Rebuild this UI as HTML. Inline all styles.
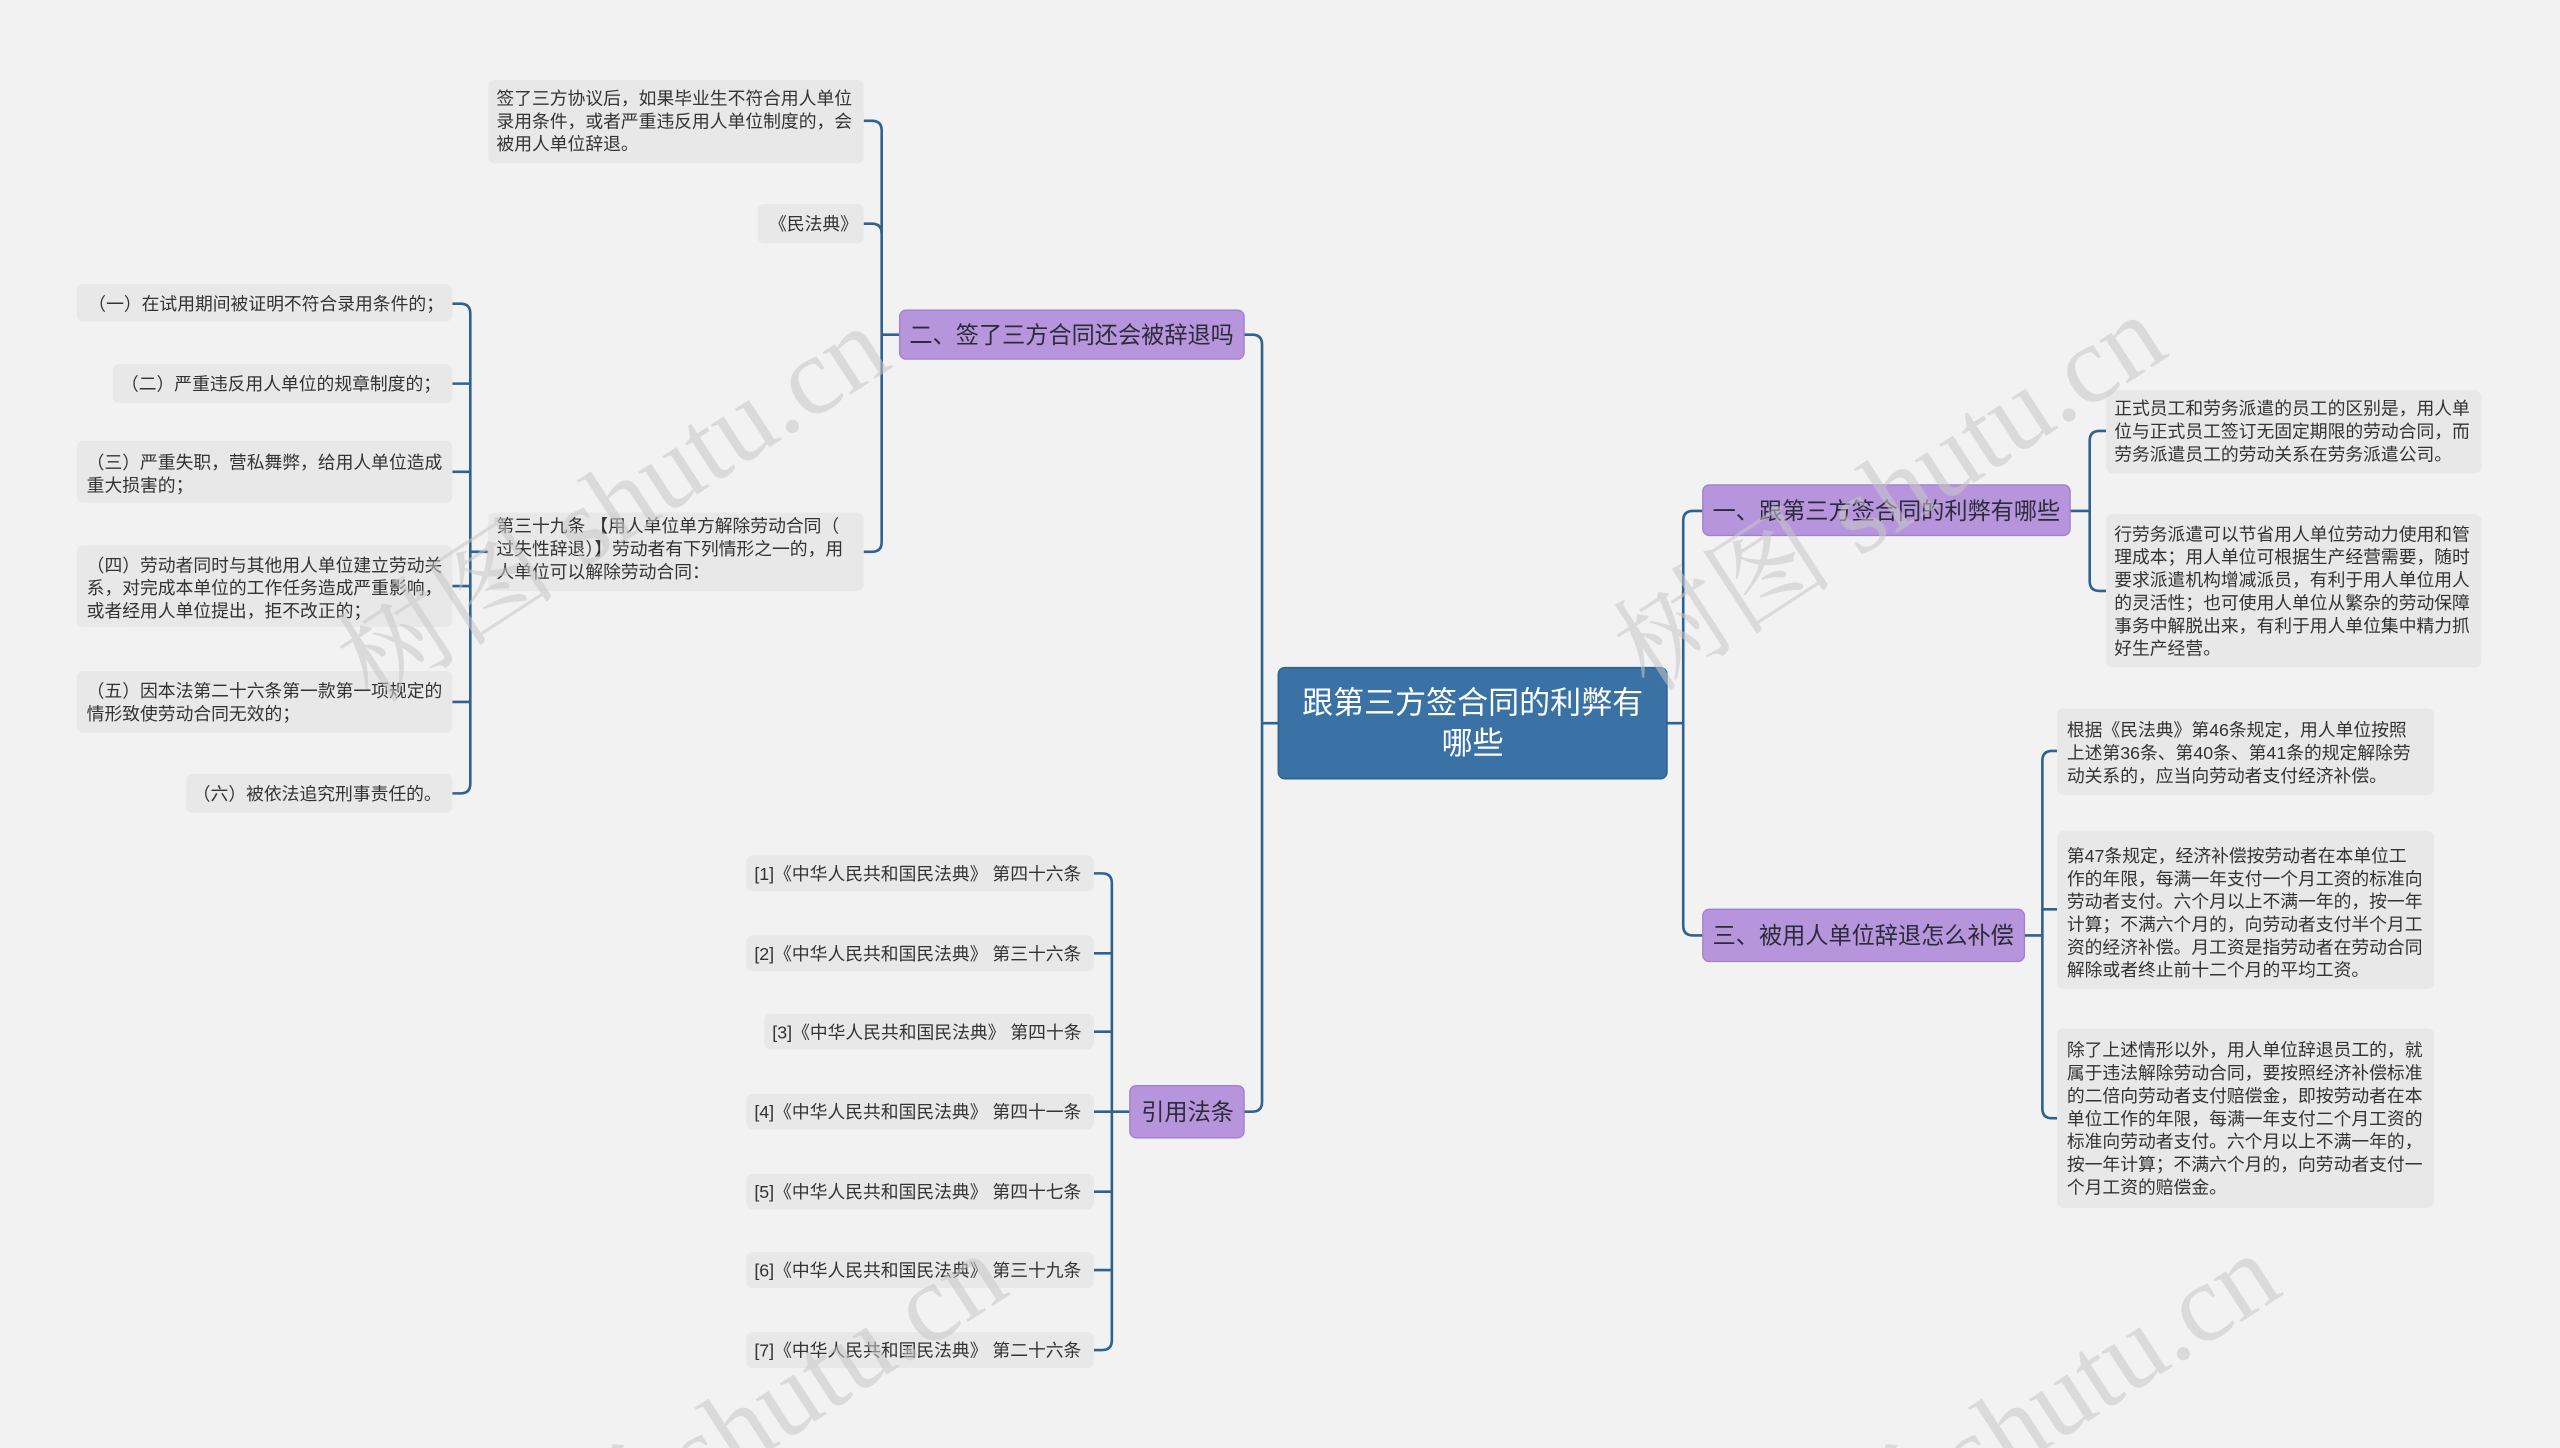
<!DOCTYPE html>
<html><head><meta charset="utf-8"><style>
html,body{margin:0;padding:0;background:#f2f2f2;width:2560px;height:1448px;overflow:hidden;}
svg{display:block;}
text{font-family:"Liberation Sans","Noto Sans CJK SC",sans-serif;}
.l{font-size:10.9px;fill:#333;}
.b{font-size:14.2px;fill:#2b2b3a;}
.c{fill:none;stroke:#2f628f;stroke-width:1.6;}
.leaf{fill:#e8e8e8;}
.br{fill:#b795dc;stroke:#a07fcf;stroke-width:0.8;}
.wm{font-size:68px;fill:#c8c8c8;opacity:0.55;font-family:"Liberation Serif","Noto Serif CJK SC",serif;}
</style></head><body>
<svg width="2560" height="1448" viewBox="0 0 1568 887" xmlns="http://www.w3.org/2000/svg">
<rect width="1568" height="887" fill="#f2f2f2"/>

<g class="c">
<path d="M529,74 H534 Q540,74 540,80 V332 Q540,338 534,338 H529"/><path d="M529,137 H534 Q540,137 540,143"/><path d="M540,205 H551"/>
<path d="M277,186 H282 Q288,186 288,192 V480 Q288,486 282,486 H277"/>
<path d="M277,235 H288 M277,289 H288 M277,359 H288 M277,430 H288 M288,338 H299"/>
<path d="M670,535 H675 Q681,535 681,541 V821 Q681,827 675,827 H670"/>
<path d="M670,584 H681 M670,632 H681 M670,681 H692 M670,730 H681 M670,778 H681"/>
<path d="M762,205 H767 Q773,205 773,211 V675 Q773,681 767,681 H762"/><path d="M773,443 H783"/>
<path d="M1043,313 H1037 Q1031,313 1031,319 V567 Q1031,573 1037,573 H1043"/><path d="M1021,443 H1031"/>
<path d="M1290,264 H1286 Q1280,264 1280,270 V356 Q1280,362 1286,362 H1290"/><path d="M1268,313 H1280"/>
<path d="M1260,460 H1257 Q1251,460 1251,466 V679 Q1251,685 1257,685 H1260"/><path d="M1240,573 H1251 M1251,557 H1260"/>
</g>

<rect x="783" y="409" width="238" height="68" rx="4" fill="#3b72a5" stroke="#2f628f"/>
<text x="902" y="437" text-anchor="middle" style="font-size:19px;fill:#fff">跟第三方签合同的利弊有</text>
<text x="902" y="462" text-anchor="middle" style="font-size:19px;fill:#fff">哪些</text>

<rect class="br" x="551" y="190" width="211" height="30" rx="4"/><text class="b" x="557" y="210">二、签了三方合同还会被辞退吗</text>
<rect class="br" x="1043" y="297" width="225" height="31" rx="4"/><text class="b" x="1049" y="318">一、跟第三方签合同的利弊有哪些</text>
<rect class="br" x="1043" y="557" width="197" height="32" rx="4"/><text class="b" x="1049" y="578">三、被用人单位辞退怎么补偿</text>
<rect class="br" x="692" y="665" width="70" height="32" rx="4"/><text class="b" x="699" y="686">引用法条</text>

<rect class="leaf" x="299" y="49" width="230" height="51" rx="4"/>
<text class="l" x="304" y="64">签了三方协议后，如果毕业生不符合用人单位</text>
<text class="l" x="304" y="78">录用条件，或者严重违反用人单位制度的，会</text>
<text class="l" x="304" y="92">被用人单位辞退。</text>
<rect class="leaf" x="464" y="125" width="65" height="24" rx="4"/><text class="l" x="471" y="141">《民法典》</text>
<rect class="leaf" x="299" y="314" width="230" height="48" rx="4"/>
<text class="l" x="304" y="326">第三十九条 【用人单位单方解除劳动合同（</text>
<text class="l" x="304" y="340">过失性辞退）】劳动者有下列情形之一的，用</text>
<text class="l" x="304" y="354">人单位可以解除劳动合同：</text>

<rect class="leaf" x="47" y="174" width="230" height="23" rx="4"/><text class="l" x="54" y="190">（一）在试用期间被证明不符合录用条件的；</text>
<rect class="leaf" x="69" y="223" width="208" height="24" rx="4"/><text class="l" x="74" y="239">（二）严重违反用人单位的规章制度的；</text>
<rect class="leaf" x="47" y="270" width="230" height="38" rx="4"/>
<text class="l" x="53" y="287">（三）严重失职，营私舞弊，给用人单位造成</text><text class="l" x="53" y="301">重大损害的；</text>
<rect class="leaf" x="47" y="334" width="230" height="50" rx="4"/>
<text class="l" x="53" y="350">（四）劳动者同时与其他用人单位建立劳动关</text><text class="l" x="53" y="364">系，对完成本单位的工作任务造成严重影响，</text><text class="l" x="53" y="378">或者经用人单位提出，拒不改正的；</text>
<rect class="leaf" x="47" y="411" width="230" height="38" rx="4"/>
<text class="l" x="53" y="427">（五）因本法第二十六条第一款第一项规定的</text><text class="l" x="53" y="441">情形致使劳动合同无效的；</text>
<rect class="leaf" x="114" y="474" width="163" height="24" rx="4"/><text class="l" x="118" y="490">（六）被依法追究刑事责任的。</text>

<rect class="leaf" x="457" y="524" width="213" height="22" rx="4"/><text class="l" x="462" y="539">[1]《中华人民共和国民法典》 第四十六条</text>
<rect class="leaf" x="457" y="573" width="213" height="22" rx="4"/><text class="l" x="462" y="588">[2]《中华人民共和国民法典》 第三十六条</text>
<rect class="leaf" x="468" y="621" width="202" height="22" rx="4"/><text class="l" x="473" y="636">[3]《中华人民共和国民法典》 第四十条</text>
<rect class="leaf" x="457" y="670" width="213" height="22" rx="4"/><text class="l" x="462" y="685">[4]《中华人民共和国民法典》 第四十一条</text>
<rect class="leaf" x="457" y="719" width="213" height="22" rx="4"/><text class="l" x="462" y="734">[5]《中华人民共和国民法典》 第四十七条</text>
<rect class="leaf" x="457" y="767" width="213" height="22" rx="4"/><text class="l" x="462" y="782">[6]《中华人民共和国民法典》 第三十九条</text>
<rect class="leaf" x="457" y="816" width="213" height="22" rx="4"/><text class="l" x="462" y="831">[7]《中华人民共和国民法典》 第二十六条</text>

<rect class="leaf" x="1290" y="239" width="230" height="51" rx="4"/>
<text class="l" x="1295" y="254">正式员工和劳务派遣的员工的区别是，用人单</text>
<text class="l" x="1295" y="268">位与正式员工签订无固定期限的劳动合同，而</text>
<text class="l" x="1295" y="282">劳务派遣员工的劳动关系在劳务派遣公司。</text>
<rect class="leaf" x="1290" y="315" width="230" height="94" rx="4"/>
<text class="l" x="1295" y="331">行劳务派遣可以节省用人单位劳动力使用和管</text>
<text class="l" x="1295" y="345">理成本；用人单位可根据生产经营需要，随时</text>
<text class="l" x="1295" y="359">要求派遣机构增减派员，有利于用人单位用人</text>
<text class="l" x="1295" y="373">的灵活性；也可使用人单位从繁杂的劳动保障</text>
<text class="l" x="1295" y="387">事务中解脱出来，有利于用人单位集中精力抓</text>
<text class="l" x="1295" y="401">好生产经营。</text>

<rect class="leaf" x="1260" y="434" width="231" height="53" rx="4"/>
<text class="l" x="1266" y="451">根据《民法典》第46条规定，用人单位按照</text>
<text class="l" x="1266" y="465">上述第36条、第40条、第41条的规定解除劳</text>
<text class="l" x="1266" y="479">动关系的，应当向劳动者支付经济补偿。</text>
<rect class="leaf" x="1260" y="509" width="231" height="97" rx="4"/>
<text class="l" x="1266" y="528">第47条规定，经济补偿按劳动者在本单位工</text>
<text class="l" x="1266" y="542">作的年限，每满一年支付一个月工资的标准向</text>
<text class="l" x="1266" y="556">劳动者支付。六个月以上不满一年的，按一年</text>
<text class="l" x="1266" y="570">计算；不满六个月的，向劳动者支付半个月工</text>
<text class="l" x="1266" y="584">资的经济补偿。月工资是指劳动者在劳动合同</text>
<text class="l" x="1266" y="598">解除或者终止前十二个月的平均工资。</text>
<rect class="leaf" x="1260" y="630" width="231" height="110" rx="4"/>
<text class="l" x="1266" y="647">除了上述情形以外，用人单位辞退员工的，就</text>
<text class="l" x="1266" y="661">属于违法解除劳动合同，要按照经济补偿标准</text>
<text class="l" x="1266" y="675">的二倍向劳动者支付赔偿金，即按劳动者在本</text>
<text class="l" x="1266" y="689">单位工作的年限，每满一年支付二个月工资的</text>
<text class="l" x="1266" y="703">标准向劳动者支付。六个月以上不满一年的，</text>
<text class="l" x="1266" y="717">按一年计算；不满六个月的，向劳动者支付一</text>
<text class="l" x="1266" y="731">个月工资的赔偿金。</text>

<text class="wm" transform="translate(228,432) rotate(-33)">树图 shutu.cn</text>
<text class="wm" transform="translate(1010,425) rotate(-33)">树图 shutu.cn</text>
<text class="wm" transform="translate(300,1000) rotate(-33)">树图 shutu.cn</text>
<text class="wm" transform="translate(1080,1000) rotate(-33)">树图 shutu.cn</text>
</svg>
</body></html>
